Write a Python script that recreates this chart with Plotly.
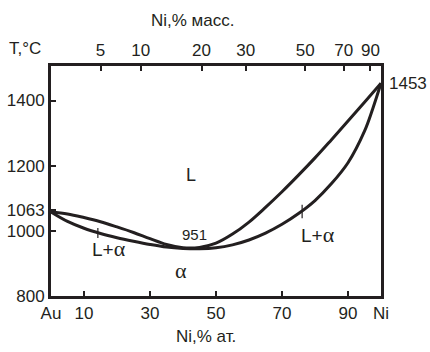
import plotly.graph_objects as go

# Liquidus (upper curve), Ni at.% vs T °C
liq_x = [0, 5, 10, 15, 20, 25, 30, 35, 40, 45, 50, 55, 60, 65, 70, 75, 80, 85, 90, 95, 100]
liq_t = [1058, 1052, 1041, 1028, 1012, 995, 976, 958, 948, 949, 962, 990, 1027, 1072, 1120,
         1171, 1224, 1280, 1337, 1395, 1453]
# Solidus (lower curve)
sol_x = [0, 5, 10, 15, 20, 25, 30, 35, 40, 45, 50, 55, 60, 65, 70, 75, 80, 85, 90, 95, 97.5, 100]
sol_t = [1058, 1029, 1008, 992, 979, 968, 958, 950, 946, 945, 948, 957, 972, 993, 1020, 1053,
         1093, 1145, 1209, 1306, 1375, 1453]

# Tick labels
bottom_vals = [0, 10, 30, 50, 70, 90, 100]
bottom_text = ["Au", "10", "30", "50", "70", "90", "Ni"]
left_vals = [800, 1000, 1063, 1200, 1400]
top_wt = [5, 10, 20, 30, 50, 70, 90]
M_NI, M_AU = 58.69, 196.97
top_at = [(w / M_NI) / (w / M_NI + (100 - w) / M_AU) * 100 for w in top_wt]

# Pointer ticks (x, T from, T to) for L+α labels
ptr_left = ([14.2, 14.2], [1009, 978])
ptr_right = ([76.1, 76.1], [1080, 1039])

FONT = "Liberation Sans, Arial, sans-serif"
COL = "#231f20"

fig = go.Figure()
for xs, ts in ((liq_x, liq_t), (sol_x, sol_t)):
    fig.add_trace(go.Scatter(x=xs, y=ts, mode="lines",
                             line=dict(color=COL, width=3, shape="spline", smoothing=1.0),
                             hoverinfo="skip", showlegend=False))
for px, pt in (ptr_left, ptr_right):
    fig.add_trace(go.Scatter(x=px, y=pt, mode="lines", line=dict(color=COL, width=1.2),
                             hoverinfo="skip", showlegend=False))
# invisible trace for top axis
fig.add_trace(go.Scatter(x=[0, 100], y=[800, 800], xaxis="x2", mode="markers",
                         marker=dict(opacity=0), hoverinfo="skip", showlegend=False))

alpha_small = '<span style="font-family:Liberation Serif, serif;font-size:22px">α</span>'
alpha_big = '<span style="font-family:Liberation Serif, serif">α</span>'

ann = []
def A(x, y, text, size=17, **kw):
    d = dict(x=x, y=y, text=text, showarrow=False, xanchor="center", yanchor="middle",
             font=dict(family=FONT, size=size, color=COL))
    d.update(kw)
    ann.append(d)

A(42.3, 1170, "L", size=18)
A(43.5, 988, "951", size=15)
A(39.5, 877, alpha_big, size=22)
A(17.6, 945, "L+" + alpha_small, size=19)
A(80.9, 989, "L+" + alpha_small, size=19)
A(100, 1453, "1453", size=17, xanchor="left", xshift=6)
A(-0.079, 1.074, "T,°C", xref="paper", yref="paper")
A(0.43, 1.2, "Ni,% масс.", xref="paper", yref="paper")
A(0.47, -0.178, "Ni,% ат.", xref="paper", yref="paper")

axis_common = dict(ticks="inside", ticklen=5, tickwidth=2, tickcolor=COL,
                   showline=True, linewidth=3, linecolor=COL,
                   showgrid=False, zeroline=False, fixedrange=True, automargin=False,
                   tickfont=dict(family=FONT, size=17, color=COL))

fig.update_layout(
    width=430, height=352,
    margin=dict(l=51, r=49, t=66, b=56),
    paper_bgcolor="white", plot_bgcolor="white",
    font=dict(family=FONT, size=17, color=COL),
    showlegend=False,
    annotations=ann,
    xaxis=dict(range=[0, 100], tickvals=bottom_vals, ticktext=bottom_text, **axis_common),
    xaxis2=dict(range=[0, 100], overlaying="x", side="top", anchor="y",
                tickvals=top_at, ticktext=[str(w) for w in top_wt], **axis_common),
    yaxis=dict(range=[800, 1506], tickvals=left_vals, ticktext=[str(v) for v in left_vals],
               mirror=True, **axis_common),
)

fig.write_html("out.html")
